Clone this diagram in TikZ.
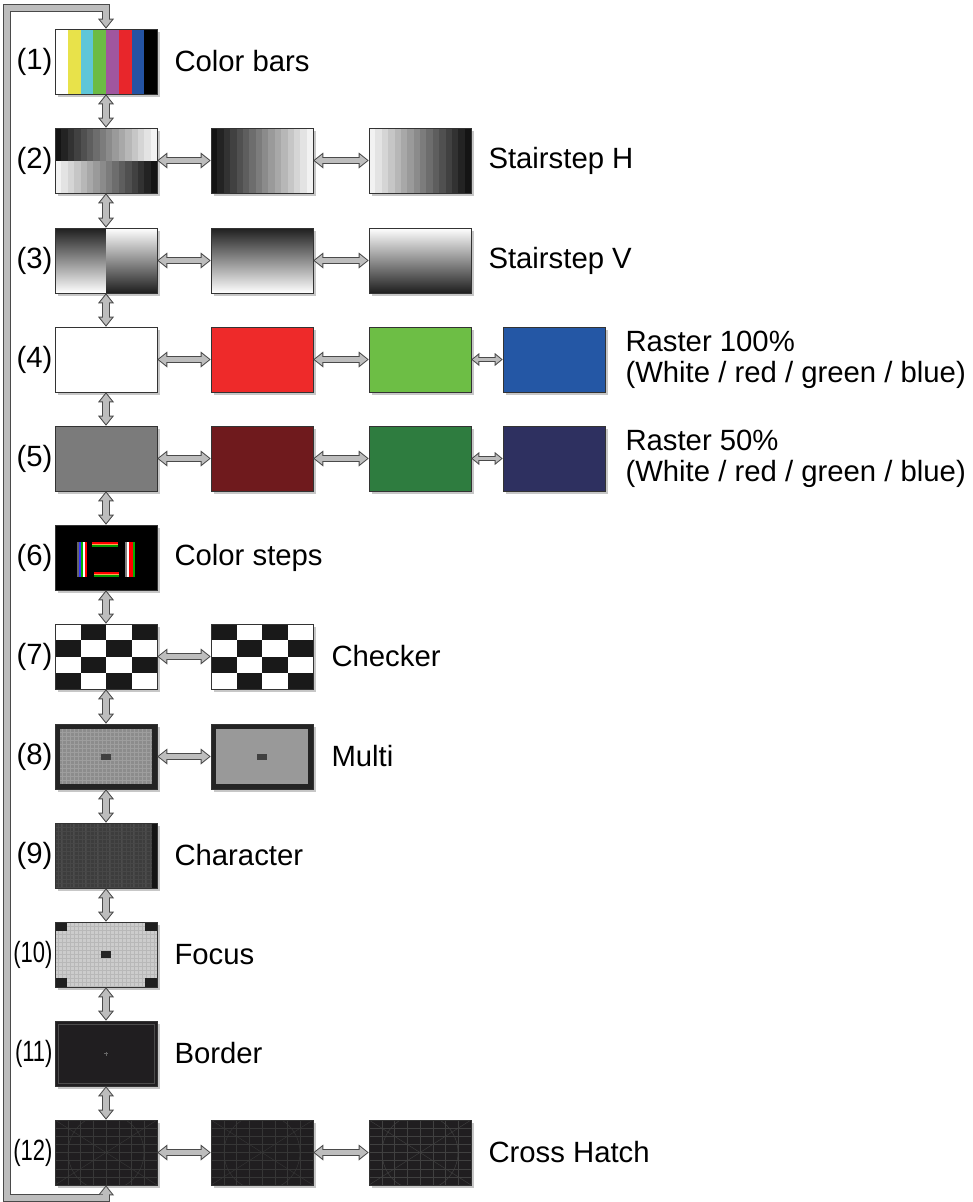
\documentclass[tikz,border=0pt]{standalone}
\usepackage{fontspec}
\setmainfont{Liberation Sans}
\usepackage{graphicx}
\usepackage{tikz}
\usetikzlibrary{arrows.meta,positioning,calc,shadows}

\definecolor{barYellow}{HTML}{E8E24A}
\definecolor{barCyan}{HTML}{5EC6D8}
\definecolor{barGreen}{HTML}{6CBB44}
\definecolor{barMagenta}{HTML}{A0569E}
\definecolor{barRed}{HTML}{E8262B}
\definecolor{barBlue}{HTML}{2453A3}
\definecolor{fullRed}{HTML}{EE2A2A}
\definecolor{fullGreen}{HTML}{6DBE45}
\definecolor{fullBlue}{HTML}{2457A5}
\definecolor{halfGray}{HTML}{7B7B7B}
\definecolor{halfRed}{HTML}{6F1A1D}
\definecolor{halfGreen}{HTML}{2E7C3F}
\definecolor{halfBlue}{HTML}{2E3060}
\definecolor{screenDark}{HTML}{201E20}
\definecolor{linkFill}{HTML}{BDBDBD}
\definecolor{linkEdge}{HTML}{4A4A4A}

\begin{document}
\begin{tikzpicture}[x=1pt, y=1pt, font=\fontsize{29.3}{31}\selectfont,
  scr/.style={draw=black!80, line width=0.6pt, minimum width=102pt, minimum height=65pt, inner sep=0pt,
    drop shadow={shadow xshift=2.5pt, shadow yshift=-2.5pt, fill=black!22, opacity=1}},
  num/.style={inner sep=0pt},
  ttl/.style={inner sep=0pt, align=left},
  link/.style={draw=linkEdge, line width=7.5pt, line join=miter,
    {Triangle[length=10pt, width=16pt, line width=0pt]}-{Triangle[length=10pt, width=16pt, line width=0pt]},
    postaction={draw=linkFill, line width=5.5pt, line join=miter, shorten <=1.6pt, shorten >=1.6pt,
      {Triangle[length=7.4pt, width=11.8pt, line width=0pt]}-{Triangle[length=7.4pt, width=11.8pt, line width=0pt]}}},
  linksm/.style={draw=linkEdge, line width=5.5pt,
    {Triangle[length=8pt, width=13pt, line width=0pt]}-{Triangle[length=8pt, width=13pt, line width=0pt]},
    postaction={draw=linkFill, line width=3.5pt, shorten <=1.6pt, shorten >=1.6pt,
      {Triangle[length=5.4pt, width=8.8pt, line width=0pt]}-{Triangle[length=5.4pt, width=8.8pt, line width=0pt]}}},
  bars/.style={path picture={
    \foreach \c [count=\k from 0] in {white,barYellow,barCyan,barGreen,barMagenta,barRed,barBlue,black}
      \fill[\c] ($(path picture bounding box.north west)+(12.75*\k,0)$) rectangle ++(12.75,-65);}},
  hstair/.style={path picture={
    \foreach \i [evaluate=\i as \w using #1] in {0,...,15}
      \fill[white!\w!black] ($(path picture bounding box.south west)+(6.375*\i,0)$) rectangle ++(6.4,65);}},
  split/.style={path picture={
    \foreach \i [evaluate=\i as \w using 8+5.8*\i] in {0,...,15} {
      \fill[white!\w!black] ($(path picture bounding box.north west)+(6.375*\i,0)$) rectangle ++(6.4,-32.5);
      \fill[white!\w!black] ($(path picture bounding box.south east)+(-6.375*\i,0)$) rectangle ++(-6.4,32.5);}}},
  vsplit/.style={path picture={
    \shade[top color=black!88, bottom color=white] (path picture bounding box.north west) rectangle (path picture bounding box.south);
    \shade[top color=white, bottom color=black!88] (path picture bounding box.north) rectangle (path picture bounding box.south east);}},
  colsteps/.style={fill=black, path picture={
    \coordinate (nw) at (path picture bounding box.north west);
    \foreach \c [count=\k from 0] in {black!60,blue!80,green!70!black,white,red} {
      \fill[\c] ($(nw)+(22+2*\k,-17)$) rectangle ++(2,-35);}
    \foreach \c [count=\k from 0] in {black!50,white,red,red,green!70!black} {
      \fill[\c] ($(nw)+(70+2*\k,-17)$) rectangle ++(2,-35);}
    \foreach \c [count=\k from 0] in {red,orange!70!white,green!60!black} {
      \fill[\c] ($(nw)+(37,-17-1.7*\k)$) rectangle ++(26,-1.7);
      \fill[\c] ($(nw)+(39,-47-1.5*\k)$) rectangle ++(25,-1.5);}}},
  checker/.style={fill=white, path picture={
    \foreach \r in {0,...,3} \foreach \c in {0,2}
      \fill[black!90] ($(path picture bounding box.north west)+({25.5*(\c+mod(\r+#1,2))},{-16.25*\r})$) rectangle ++(25.5,-16.25);}},
  multi/.style 2 args={fill=black!86, path picture={
    \coordinate (nw) at (path picture bounding box.north west);
    \coordinate (se) at (path picture bounding box.south east);
    \fill[#1] ($(nw)+(5,-5)$) rectangle ($(se)+(-5,5)$);
    \draw[#2, line width=0.3pt, step=4] ($(nw)+(5,-5)$) grid ($(se)+(-5,5)$);
    \fill[black!75] ($(path picture bounding box.center)+(-5,-3)$) rectangle ++(10,6);}},
  character/.style={fill=black!76, path picture={
    \coordinate (nw) at (path picture bounding box.north west);
    \foreach \x in {0,...,7}
      \draw[black!70, line width=2pt] ($(nw)+(7+12*\x,0)$) -- ++(0,-65);
    \draw[black!72, line width=0.3pt, step=4] (nw) grid (path picture bounding box.south east);
    \fill[black!92] ($(path picture bounding box.north east)+(-5,0)$) rectangle (path picture bounding box.south east);}},
  focus/.style={fill=black!20, path picture={
    \coordinate (nw) at (path picture bounding box.north west);
    \draw[black!28, line width=0.3pt, step=4] (nw) grid (path picture bounding box.south east);
    \fill[black!88] (nw) rectangle ++(12,-9);
    \fill[black!88] (path picture bounding box.north east) rectangle ++(-12,-9);
    \fill[black!88] (path picture bounding box.south west) rectangle ++(12,9);
    \fill[black!88] (path picture bounding box.south east) rectangle ++(-12,9);
    \fill[black!85] ($(path picture bounding box.center)+(-5,-3.5)$) rectangle ++(10,7);}},
  borderimg/.style={fill=screenDark, path picture={
    \draw[black!70, line width=0.5pt] ($(path picture bounding box.north west)+(3,-3)$) rectangle ($(path picture bounding box.south east)+(-3,3)$);
    \draw[black!60, line width=0.4pt] ($(path picture bounding box.center)+(-2,0)$) -- ++(4,0)
      ($(path picture bounding box.center)+(0,-2)$) -- ++(0,4);}},
  hatch/.style={fill=screenDark, path picture={
    \coordinate (c) at (path picture bounding box.center);
    \draw[#1, line width=0.4pt, xstep=12.75, ystep=8.125] (path picture bounding box.north west) grid (path picture bounding box.south east);
    \draw[#1, line width=0.5pt] (c) circle (38);
    \draw[#1, line width=0.4pt] (path picture bounding box.north west) -- (path picture bounding box.south east)
      (path picture bounding box.south west) -- (path picture bounding box.north east);}}]
\useasboundingbox (0,0) rectangle (972,-1202);

\node[scr, bars] (r1a) at (106,-61.5) {};
\node[num, left=2pt of r1a] (n1) {(1)};
\node[ttl, right=17pt of r1a] (t1) {Color bars};

\node[scr, split] (r2a) at (106,-160.5) {};
\node[scr, hstair=8+5.8*\i] (r2b) at (262,-160.5) {};
\node[scr, hstair=95-5.8*\i] (r2c) at (420,-160.5) {};
\node[num, left=2pt of r2a] (n2) {(2)};
\node[ttl, right=17pt of r2c] (t2) {Stairstep H};

\node[scr, vsplit] (r3a) at (106,-260.5) {};
\node[scr, top color=black!88, bottom color=white] (r3b) at (262,-260.5) {};
\node[scr, top color=white, bottom color=black!88] (r3c) at (420,-260.5) {};
\node[num, left=2pt of r3a] (n3) {(3)};
\node[ttl, right=17pt of r3c] (t3) {Stairstep V};

\node[scr, fill=white] (r4a) at (106,-359.5) {};
\node[scr, fill=fullRed] (r4b) at (262,-359.5) {};
\node[scr, fill=fullGreen] (r4c) at (420,-359.5) {};
\node[scr, fill=fullBlue] (r4d) at (554,-359.5) {};
\node[num, left=2pt of r4a] (n4) {(4)};
\node[ttl, right=20pt of r4d] (t4) {Raster 100\%\\(White / red / green / blue)};

\node[scr, fill=halfGray] (r5a) at (106,-458.5) {};
\node[scr, fill=halfRed] (r5b) at (262,-458.5) {};
\node[scr, fill=halfGreen] (r5c) at (420,-458.5) {};
\node[scr, fill=halfBlue] (r5d) at (554,-458.5) {};
\node[num, left=2pt of r5a] (n5) {(5)};
\node[ttl, right=20pt of r5d] (t5) {Raster 50\%\\(White / red / green / blue)};

\node[scr, colsteps] (r6a) at (106,-557.5) {};
\node[num, left=2pt of r6a] (n6) {(6)};
\node[ttl, right=17pt of r6a] (t6) {Color steps};

\node[scr, checker=1] (r7a) at (106,-656.5) {};
\node[scr, checker=0] (r7b) at (262,-656.5) {};
\node[num, left=2pt of r7a] (n7) {(7)};
\node[ttl, right=18pt of r7b] (t7) {Checker};

\node[scr, multi={black!45}{black!38}] (r8a) at (106,-756.5) {};
\node[scr, multi={black!40}{black!40}] (r8b) at (262,-756.5) {};
\node[num, left=2pt of r8a] (n8) {(8)};
\node[ttl, right=18pt of r8b] (t8) {Multi};

\node[scr, character] (r9a) at (106,-855.5) {};
\node[num, left=2pt of r9a] (n9) {(9)};
\node[ttl, right=17pt of r9a] (t9) {Character};

\node[scr, focus] (r10a) at (106,-954.5) {};
\node[num, left=2pt of r10a] (n10) {\scalebox{0.75}[1]{(10)}};
\node[ttl, right=17pt of r10a] (t10) {Focus};

\node[scr, borderimg] (r11a) at (106,-1053.5) {};
\node[num, left=2pt of r11a] (n11) {\scalebox{0.75}[1]{(11)}};
\node[ttl, right=17pt of r11a] (t11) {Border};

\node[scr, hatch=black!78] (r12a) at (106,-1152.5) {};
\node[scr, hatch=black!79] (r12b) at (262,-1152.5) {};
\node[scr, hatch=black!75] (r12c) at (420,-1152.5) {};
\node[num, left=2pt of r12a] (n12) {\scalebox{0.75}[1]{(12)}};
\node[ttl, right=17pt of r12c] (t12) {Cross Hatch};

\coordinate (loopbl) at (7,-1198);
\coordinate (looptl) at (7,-8);

% down the first column
\draw[link] (r1a) -- (r2a);
\draw[link] (r2a) -- (r3a);
\draw[link] (r3a) -- (r4a);
\draw[link] (r4a) -- (r5a);
\draw[link] (r5a) -- (r6a);
\draw[link] (r6a) -- (r7a);
\draw[link] (r7a) -- (r8a);
\draw[link] (r8a) -- (r9a);
\draw[link] (r9a) -- (r10a);
\draw[link] (r10a) -- (r11a);
\draw[link] (r11a) -- (r12a);
\draw[link] (r12a) |- (loopbl) -- (looptl) -| (r1a);

% across the rows
\draw[link] (r2a) -- (r2b);
\draw[link] (r2b) -- (r2c);
\draw[link] (r3a) -- (r3b);
\draw[link] (r3b) -- (r3c);
\draw[link] (r4a) -- (r4b);
\draw[link] (r4b) -- (r4c);
\draw[linksm] (r4c) -- (r4d);
\draw[link] (r5a) -- (r5b);
\draw[link] (r5b) -- (r5c);
\draw[linksm] (r5c) -- (r5d);
\draw[link] (r7a) -- (r7b);
\draw[link] (r8a) -- (r8b);
\draw[link] (r12a) -- (r12b);
\draw[link] (r12b) -- (r12c);
\end{tikzpicture}
\end{document}
